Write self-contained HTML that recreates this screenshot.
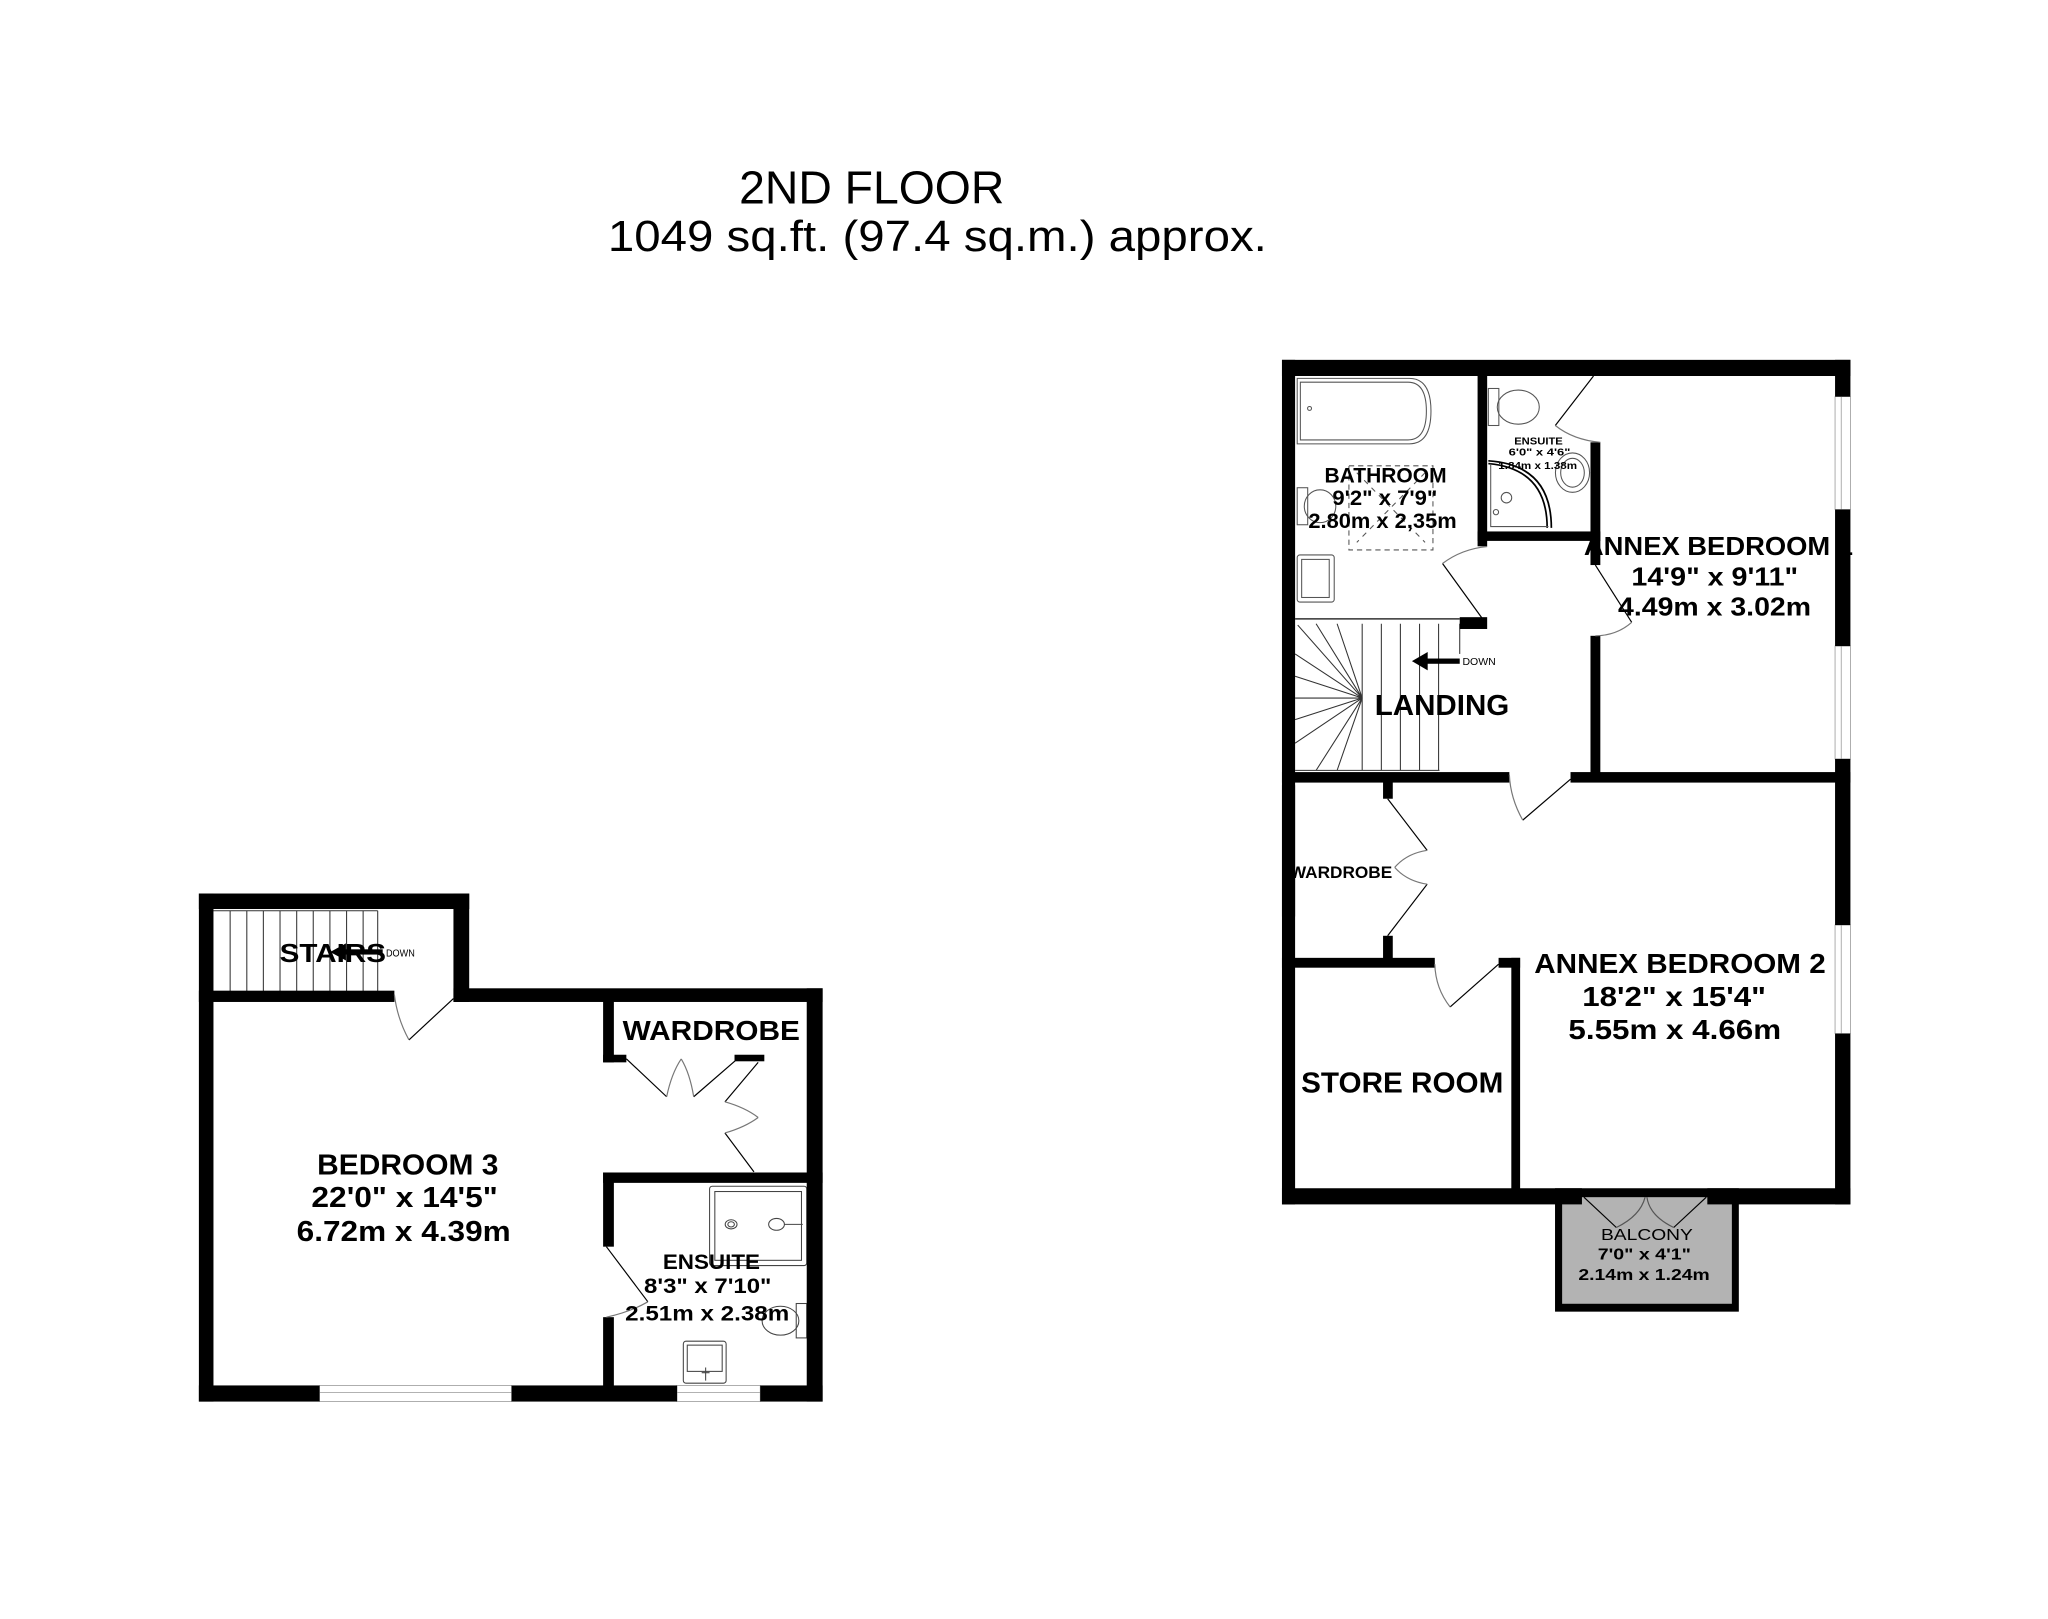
<!DOCTYPE html>
<html><head><meta charset="utf-8"><style>
html,body{margin:0;padding:0;background:#fff;}
svg{display:block;}
text{font-family:"Liberation Sans",sans-serif;fill:#000;}
</style></head><body>
<svg width="2048" height="1619" viewBox="0 0 1560 1233" xmlns="http://www.w3.org/2000/svg">
<rect width="1560" height="1233" fill="#fff"/>
<text x="563" y="155" font-size="35" textLength="202" lengthAdjust="spacingAndGlyphs">2ND FLOOR</text>
<text x="463" y="191" font-size="33" textLength="502" lengthAdjust="spacingAndGlyphs">1049 sq.ft. (97.4 sq.m.) approx.</text>

<!-- ============ RIGHT PLAN ============ -->
<g transform="translate(-6.5,-2)">
<rect x="1191" y="907" width="140" height="94" fill="#000"/>
<rect x="1196.4" y="913.8" width="129.3" height="81.2" fill="#b3b3b3"/>
<g fill="none" stroke="#555" stroke-width="0.8">
<path d="M994.6 290.1 H1080 Q1096.5 290.1 1096.5 315 Q1096.5 340 1080 340 H994.6 Z"/>
<path d="M997 293 H1079 Q1093 293 1093 315 Q1093 337 1079 337 H997 Z"/>
<circle cx="1004" cy="313" r="1.5"/>
<rect x="994.6" y="373.4" width="8" height="28.2"/>
<ellipse cx="1012" cy="387.5" rx="12" ry="12.5"/>
<rect x="994.6" y="424.6" width="28.2" height="35.9" rx="2"/>
<rect x="998" y="428" width="21" height="29"/>
<rect x="1034" y="356.7" width="64" height="64.1" stroke-dasharray="4 3"/>
<path d="M1040 362 L1092 415 M1092 362 L1040 415" stroke-dasharray="4 4"/>
<rect x="1140.2" y="297.8" width="8" height="28.2"/>
<ellipse cx="1163" cy="312" rx="16" ry="13"/>
<ellipse cx="1204.3" cy="361.9" rx="13" ry="15"/>
<ellipse cx="1204.3" cy="362" rx="9" ry="11"/>
<path d="M1140.2 352.9 Q1188.2 356 1188.2 404 M1140.2 355 Q1185 359 1185 404" stroke="#000" stroke-width="1.3"/>
<path d="M1142 355 V403 H1186"/>
<circle cx="1154" cy="381" r="4"/>
<circle cx="1146" cy="392" r="2"/>
</g>
<g fill="none" stroke="#333" stroke-width="0.8">
<line x1="993" y1="473.3" x2="1118.4" y2="473.3" stroke-width="1.2"/>
<line x1="993" y1="588.7" x2="1103" y2="588.7"/>
<line x1="1044.1" y1="477" x2="1044.1" y2="588.7"/>
<line x1="1058.7" y1="477" x2="1058.7" y2="588.7"/>
<line x1="1073.2" y1="477" x2="1073.2" y2="588.7"/>
<line x1="1087.8" y1="477" x2="1087.8" y2="588.7"/>
<line x1="1102.3" y1="477" x2="1102.3" y2="588.7"/>
<line x1="1118.4" y1="477" x2="1118.4" y2="500"/>
<line x1="993" y1="533.6" x2="1044.1" y2="533.6"/>
<path d="M1044.1 533.6 L995 478 M1044.1 533.6 L1009 477 M1044.1 533.6 L1025 477 M1044.1 533.6 L993 500 M1044.1 533.6 L993 517 M1044.1 533.6 L993 550 M1044.1 533.6 L993 568 M1044.1 533.6 L1009 588.7 M1044.1 533.6 L1025 588.7"/>
</g>
<rect x="1092" y="503.5" width="26.4" height="4" fill="#000"/>
<path d="M1082 505.5 L1094 498.5 L1094 512.5 Z" fill="#000"/>
<text x="1120.5" y="508.5" font-size="8">DOWN</text>
<rect x="1404.3" y="304" width="11.7" height="86" fill="#fff" stroke="#999" stroke-width="0.6"/>
<line x1="1409" y1="304" x2="1409" y2="390" stroke="#999" stroke-width="0.6"/>
<rect x="1404.3" y="494" width="11.7" height="86" fill="#fff" stroke="#999" stroke-width="0.6"/>
<line x1="1409" y1="494" x2="1409" y2="580" stroke="#999" stroke-width="0.6"/>
<rect x="1404.3" y="706.5" width="11.7" height="82.7" fill="#fff" stroke="#999" stroke-width="0.6"/>
<line x1="1409" y1="706.5" x2="1409" y2="789.2" stroke="#999" stroke-width="0.6"/>
<g fill="#000">
<rect x="983" y="276" width="433" height="12.3"/>
<rect x="983" y="276" width="10" height="643.3"/>
<rect x="1404.3" y="276" width="11.7" height="28"/>
<rect x="1404.3" y="390" width="11.7" height="104"/>
<rect x="1404.3" y="580" width="11.7" height="126.5"/>
<rect x="1404.3" y="789.2" width="11.7" height="130.1"/>
<rect x="1132" y="288" width="7.3" height="130"/>
<rect x="1132" y="406.7" width="93.5" height="7.2"/>
<rect x="1218" y="338.8" width="7.5" height="93.5"/>
<rect x="1218" y="486.2" width="7.5" height="110"/>
<rect x="1118.4" y="472" width="20.9" height="9"/>
<rect x="983" y="590" width="173.2" height="8"/>
<rect x="1202.8" y="590" width="213.2" height="8"/>
<rect x="1060" y="596" width="7.4" height="14.3"/>
<rect x="1060" y="714.7" width="7.4" height="20"/>
<rect x="983" y="731.5" width="116.4" height="7.5"/>
<rect x="1148" y="731.5" width="16.4" height="7.5"/>
<rect x="1157.7" y="731.5" width="6.7" height="180"/>
<rect x="983" y="907" width="228.5" height="12.3"/>
<rect x="1307" y="907" width="109" height="12.3"/>
</g>
<g fill="none" stroke="#000" stroke-width="0.9">
<path d="M1135.8 473.3 L1105.3 431.1"/><path d="M1105.3 431.1 Q1120 420 1139.3 418.2" stroke="#777"/>
<path d="M1221.7 432.3 L1249.4 475.9"/><path d="M1249.4 475.9 Q1238 486 1221.7 486.2" stroke="#777"/>
<path d="M1220.3 288.3 L1191.2 326"/><path d="M1191.2 326 Q1205 337 1225.5 338.8" stroke="#777"/>
<path d="M1202.8 595.4 L1166.4 626.6"/><path d="M1166.4 626.6 Q1157 610 1156.2 592" stroke="#777"/>
<path d="M1063.5 610.3 L1093.6 649.6"/><path d="M1093.6 649.6 Q1078 652 1068.9 662.6" stroke="#777"/>
<path d="M1063.5 714.7 L1093.6 675.4"/><path d="M1093.6 675.4 Q1078 673 1068.9 662.6" stroke="#777"/>
<path d="M1148 736.3 L1111.1 768.9"/><path d="M1111.1 768.9 Q1100 755 1099.4 736.3" stroke="#777"/>
<path d="M1213 913.8 L1237.7 936.9"/><path d="M1237.7 936.9 Q1256 928 1259.6 913.8" stroke="#555"/>
<path d="M1306.2 913.8 L1281.4 936.9"/><path d="M1281.4 936.9 Q1263 928 1261 913.8" stroke="#555"/>
</g>
<text x="1061.9" y="369.5" font-size="16" font-weight="bold" text-anchor="middle" textLength="93" lengthAdjust="spacingAndGlyphs">BATHROOM</text>
<text x="1061.4" y="386.7" font-size="16" font-weight="bold" text-anchor="middle" textLength="80" lengthAdjust="spacingAndGlyphs">9'2"  x 7'9"</text>
<text x="1059.6" y="404" font-size="16" font-weight="bold" text-anchor="middle" textLength="113" lengthAdjust="spacingAndGlyphs">2.80m  x 2,35m</text>
<text x="1178.4" y="340.6" font-size="8" font-weight="bold" text-anchor="middle" textLength="37" lengthAdjust="spacingAndGlyphs">ENSUITE</text>
<text x="1179.2" y="349" font-size="8" font-weight="bold" text-anchor="middle" textLength="47" lengthAdjust="spacingAndGlyphs">6'0"  x 4'6"</text>
<text x="1177.8" y="359.3" font-size="8" font-weight="bold" text-anchor="middle" textLength="60" lengthAdjust="spacingAndGlyphs">1.84m  x 1.38m</text>
<text x="1315.5" y="424.6" font-size="20" font-weight="bold" text-anchor="middle" textLength="205" lengthAdjust="spacingAndGlyphs">ANNEX BEDROOM 1</text>
<text x="1312.7" y="447.7" font-size="20" font-weight="bold" text-anchor="middle" textLength="127" lengthAdjust="spacingAndGlyphs">14'9"  x 9'11"</text>
<text x="1312.5" y="470.8" font-size="20" font-weight="bold" text-anchor="middle" textLength="147" lengthAdjust="spacingAndGlyphs">4.49m  x 3.02m</text>
<text x="1104.9" y="546.4" font-size="22" font-weight="bold" text-anchor="middle" textLength="102.5" lengthAdjust="spacingAndGlyphs">LANDING</text>
<text x="1074.6" y="834" font-size="22" font-weight="bold" text-anchor="middle" textLength="154" lengthAdjust="spacingAndGlyphs">STORE ROOM</text>
<text x="1286.2" y="743.1" font-size="21" font-weight="bold" text-anchor="middle" textLength="222" lengthAdjust="spacingAndGlyphs">ANNEX BEDROOM 2</text>
<text x="1281.7" y="768.3" font-size="21" font-weight="bold" text-anchor="middle" textLength="140" lengthAdjust="spacingAndGlyphs">18'2"  x 15'4"</text>
<text x="1282.2" y="793.3" font-size="21" font-weight="bold" text-anchor="middle" textLength="162" lengthAdjust="spacingAndGlyphs">5.55m  x 4.66m</text>
<text x="1261" y="946.4" font-size="12" text-anchor="middle" textLength="70" lengthAdjust="spacingAndGlyphs" fill="#222">BALCONY</text>
<text x="1259" y="961.3" font-size="12" font-weight="bold" text-anchor="middle" textLength="71" lengthAdjust="spacingAndGlyphs" fill="#222">7'0"  x 4'1"</text>
<text x="1258.8" y="977" font-size="12" font-weight="bold" text-anchor="middle" textLength="100" lengthAdjust="spacingAndGlyphs" fill="#222">2.14m  x 1.24m</text>
<text x="989" y="670.8" font-size="13" font-weight="bold" textLength="78" lengthAdjust="spacingAndGlyphs">WARDROBE</text>
<rect x="983" y="600" width="10" height="100" fill="#000"/>
</g>

<!-- ============ LEFT PLAN ============ -->
<g transform="translate(-0.5,-4.5)">
<g fill="none" stroke="#333" stroke-width="0.8">
<line x1="163" y1="698.1" x2="288.2" y2="698.1"/>
<line x1="175.8" y1="698.1" x2="175.8" y2="759.8"/>
<line x1="188.5" y1="698.1" x2="188.5" y2="759.8"/>
<line x1="201.1" y1="698.1" x2="201.1" y2="759.8"/>
<line x1="213.8" y1="698.1" x2="213.8" y2="759.8"/>
<line x1="226.5" y1="698.1" x2="226.5" y2="759.8"/>
<line x1="239.1" y1="698.1" x2="239.1" y2="759.8"/>
<line x1="251.8" y1="698.1" x2="251.8" y2="759.8"/>
<line x1="264.5" y1="698.1" x2="264.5" y2="759.8"/>
<line x1="277.1" y1="698.1" x2="277.1" y2="759.8"/>
<line x1="288.2" y1="698.1" x2="288.2" y2="759.8"/>
</g>
<g fill="none" stroke="#444" stroke-width="0.8">
<rect x="541" y="908" width="74" height="60.4" rx="2"/>
<rect x="545" y="912" width="66" height="52.4"/>
<ellipse cx="557.4" cy="937" rx="4.5" ry="3.5"/>
<ellipse cx="557.4" cy="937" rx="2.5" ry="2"/>
<ellipse cx="592" cy="937" rx="6" ry="4.5"/>
<line x1="598" y1="937" x2="612" y2="937"/>
<rect x="607" y="997.3" width="8" height="26.2"/>
<ellipse cx="595" cy="1010.4" rx="14" ry="11"/>
<rect x="521" y="1026" width="32.6" height="32" rx="2"/>
<rect x="524" y="1029" width="26.6" height="20"/>
<path d="M535 1050 h6 M538 1046 v10"/>
</g>
<rect x="243.9" y="1059.7" width="146.3" height="12.3" fill="#fff" stroke="#999" stroke-width="0.6"/>
<line x1="243.9" y1="1065" x2="390.2" y2="1065" stroke="#999" stroke-width="0.6"/>
<rect x="516.2" y="1059.7" width="63.4" height="12.3" fill="#fff" stroke="#999" stroke-width="0.6"/>
<line x1="516.2" y1="1065" x2="579.6" y2="1065" stroke="#999" stroke-width="0.6"/>
<g fill="#000">
<rect x="152" y="685" width="205.9" height="11.8"/>
<rect x="152" y="685" width="11.1" height="387"/>
<rect x="345.9" y="685" width="12" height="82.6"/>
<rect x="152" y="759" width="148.9" height="8.6"/>
<rect x="345.9" y="757.2" width="281.2" height="10.4"/>
<rect x="615" y="757.2" width="12.1" height="314.8"/>
<rect x="152" y="1059.7" width="91.9" height="12.3"/>
<rect x="390.2" y="1059.7" width="126" height="12.3"/>
<rect x="579.6" y="1059.7" width="47.5" height="12.3"/>
<rect x="459.9" y="767" width="8.2" height="46.6"/>
<rect x="459.9" y="807.8" width="17.7" height="5.8"/>
<rect x="560" y="807.8" width="22.7" height="5"/>
<rect x="459.9" y="897.5" width="167.2" height="7.9"/>
<rect x="459.9" y="897.5" width="8.2" height="56.5"/>
<rect x="459.9" y="1007.7" width="8.2" height="60"/>
</g>
<g fill="none" stroke="#000" stroke-width="0.9">
<path d="M345.9 765 L312 796.5"/><path d="M312 796.5 Q303 780 300.9 762" stroke="#777"/>
<path d="M477.6 810.9 L508.3 839.8"/><path d="M508.3 839.8 Q512 822 519.4 811" stroke="#777"/>
<path d="M560.6 812.3 L528.9 839.8"/><path d="M528.9 839.8 Q526 822 519.4 811" stroke="#777"/>
<path d="M578 813.6 L552.7 843.7"/><path d="M552.7 843.7 Q568 848 578 855.6" stroke="#777"/>
<path d="M574.8 897 L552.7 867.4"/><path d="M552.7 867.4 Q568 863 578 855.6" stroke="#777"/>
<path d="M462.4 954 L494 996"/><path d="M494 996 Q480 1004 462.4 1007.7" stroke="#777"/>
</g>
<text x="254" y="737" font-size="20" font-weight="bold" text-anchor="middle" textLength="81" lengthAdjust="spacingAndGlyphs">STAIRS</text>
<rect x="262" y="727.5" width="30" height="4" fill="#000"/>
<path d="M252 729.5 L264 723 L264 736 Z" fill="#000"/>
<text x="294.5" y="733" font-size="8" textLength="22" lengthAdjust="spacingAndGlyphs">DOWN</text>
<text x="542.3" y="796.5" font-size="21" font-weight="bold" text-anchor="middle" textLength="135" lengthAdjust="spacingAndGlyphs">WARDROBE</text>
<text x="311.1" y="898.9" font-size="22" font-weight="bold" text-anchor="middle" textLength="138" lengthAdjust="spacingAndGlyphs">BEDROOM 3</text>
<text x="308.7" y="923.8" font-size="22" font-weight="bold" text-anchor="middle" textLength="142" lengthAdjust="spacingAndGlyphs">22'0"  x 14'5"</text>
<text x="308" y="949.5" font-size="22" font-weight="bold" text-anchor="middle" textLength="163" lengthAdjust="spacingAndGlyphs">6.72m  x 4.39m</text>
<text x="542.4" y="971" font-size="16" font-weight="bold" text-anchor="middle" textLength="74" lengthAdjust="spacingAndGlyphs">ENSUITE</text>
<text x="539.6" y="989.4" font-size="16" font-weight="bold" text-anchor="middle" textLength="97" lengthAdjust="spacingAndGlyphs">8'3"  x 7'10"</text>
<text x="539.2" y="1010.4" font-size="16" font-weight="bold" text-anchor="middle" textLength="125" lengthAdjust="spacingAndGlyphs">2.51m  x 2.38m</text>
</g>
</svg>
</body></html>
